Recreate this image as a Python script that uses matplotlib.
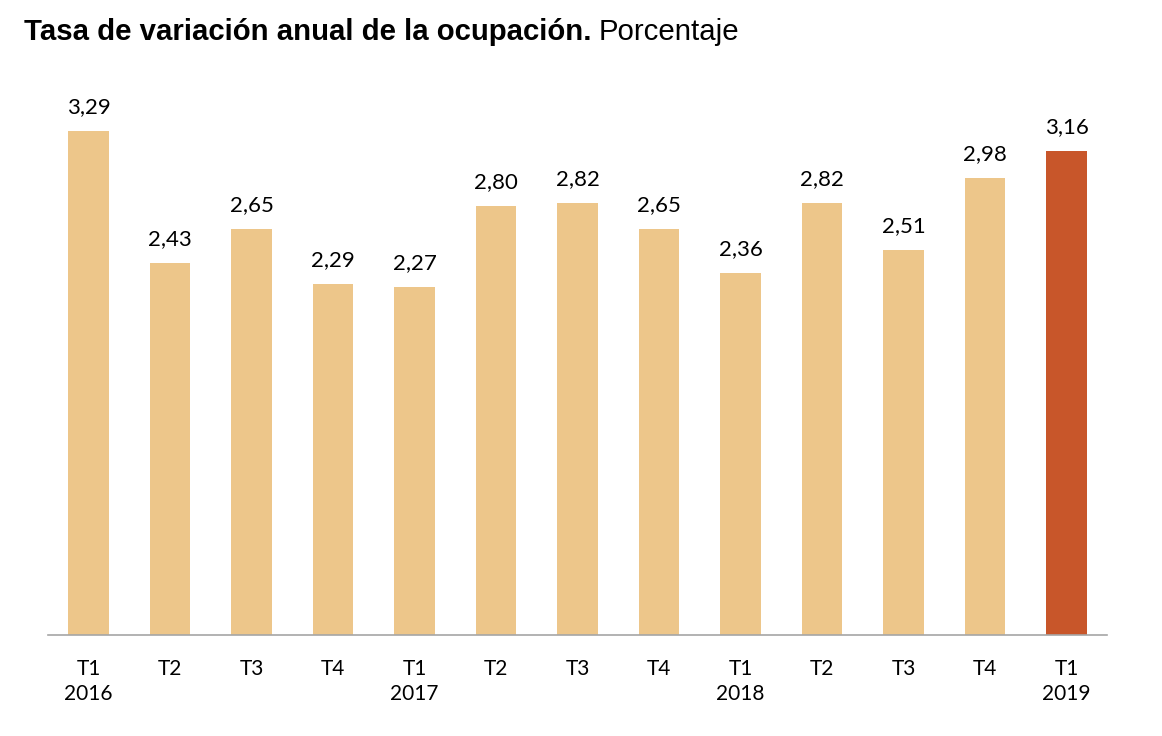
import matplotlib
matplotlib.use("Agg")
import matplotlib.pyplot as plt

quarters = ["T1\n2016", "T2", "T3", "T4", "T1\n2017", "T2", "T3", "T4",
            "T1\n2018", "T2", "T3", "T4", "T1\n2019"]
values = [3.29, 2.43, 2.65, 2.29, 2.27, 2.80, 2.82, 2.65, 2.36, 2.82, 2.51, 2.98, 3.16]
colors = ["#EDC68A"] * 12 + ["#C8562A"]

fig = plt.figure(figsize=(11.62, 7.36), dpi=100)
W, H = 1162, 736
ax = fig.add_axes([47.75 / W, (H - 635) / H, 1059.5 / W, (635 - 83.5) / H])

x = list(range(len(values)))
ax.bar(x, values, width=0.5, color=colors, zorder=2)
ax.set_xlim(-0.5, len(values) - 0.5)
ax.set_ylim(0, 3.6)

lab_font = "Lato"
for xi, v in zip(x, values):
    ax.annotate(f"{v:.2f}".replace(".", ","), (xi, v), xytext=(0, 14),
                textcoords="offset pixels", ha="center", va="bottom",
                fontsize=16, family=lab_font, color="black")

ax.set_xticks(x)
ax.set_xticklabels(quarters, fontsize=15, family=lab_font, linespacing=1.35)
ax.tick_params(axis="x", length=0, pad=17)
ax.set_yticks([])
for s in ["top", "right", "left"]:
    ax.spines[s].set_visible(False)
ax.spines["bottom"].set_color("#A6A6A6")
ax.spines["bottom"].set_linewidth(1.2)

fig.text(24 / W, 1 - 40 / H, "Tasa de variación anual de la ocupación.",
         fontsize=21.2, fontweight="bold", family="Liberation Sans", ha="left", va="baseline")
t1 = fig.texts[0]
fig.canvas.draw()
bb = t1.get_window_extent()
fig.text((bb.x1 + 7) / W, 1 - 40 / H, "Porcentaje", fontsize=21.2,
         family="Liberation Sans", ha="left", va="baseline")

fig.savefig("out.png", dpi=100)
